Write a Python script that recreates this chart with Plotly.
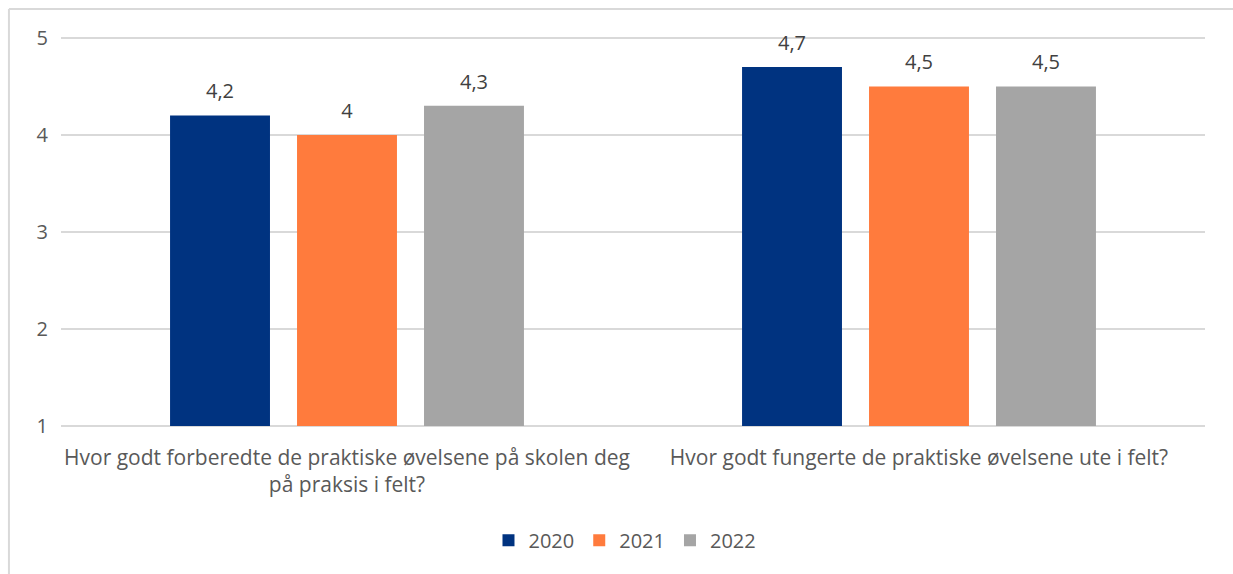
import plotly.graph_objects as go

categories = [
    "Hvor godt forberedte de praktiske øvelsene på skolen deg<br>på praksis i felt?",
    "Hvor godt fungerte de praktiske øvelsene ute i felt?",
]
years = ["2020", "2021", "2022"]
values = {
    "2020": [4.2, 4.7],
    "2021": [4.0, 4.5],
    "2022": [4.3, 4.5],
}
colors = {"2020": "#003380", "2021": "#FF7B3D", "2022": "#A5A5A5"}
y_ticks = [1, 2, 3, 4, 5]
y_min = 1  # axis starts at 1, bars grow from there


def fmt(v):
    return ("%g" % v).replace(".", ",")


fig = go.Figure()
for year in years:
    fig.add_trace(go.Bar(
        x=categories,
        y=[v - y_min for v in values[year]],
        base=y_min,
        name=year,
        offsetgroup=year,
        marker=dict(color=colors[year], line=dict(width=0)),
    ))
# value labels, lifted a bit above the bars via an invisible marker
for year in years:
    fig.add_trace(go.Scatter(
        x=categories,
        y=values[year],
        offsetgroup=year,
        mode="markers+text",
        marker=dict(size=18, opacity=0),
        text=[fmt(v) for v in values[year]],
        textposition="top center",
        textfont=dict(size=20, color="#404040"),
        showlegend=False,
        hoverinfo="skip",
        cliponaxis=False,
    ))

fig.update_layout(
    width=1233,
    height=574,
    margin=dict(l=61, r=28, t=36, b=146),
    paper_bgcolor="white",
    plot_bgcolor="white",
    font=dict(family="Open Sans, Liberation Sans, sans-serif", size=20, color="#595959"),
    barmode="group",
    scattermode="group",
    bargap=0.334,
    bargroupgap=0.213,
    showlegend=True,
    legend=dict(
        orientation="h",
        x=0.493, xanchor="center",
        yref="container",
        y=0.059, yanchor="middle",
        font=dict(size=20, color="#595959"),
        itemwidth=30,
    ),
    xaxis=dict(
        showgrid=False,
        showline=False,
        ticks="",
        ticklabelstandoff=15,
        tickfont=dict(size=21, color="#595959"),
    ),
    yaxis=dict(
        range=[0.98, 5.02],
        tickvals=y_ticks,
        showgrid=True,
        gridcolor="#D9D9D9",
        gridwidth=1.5,
        zeroline=False,
        showline=False,
        ticks="",
        ticklabelstandoff=12,
        tickfont=dict(size=20, color="#595959"),
    ),
    shapes=[
        dict(type="line", xref="paper", yref="paper",
             x0=-0.0455, x1=1.05, y0=1.069, y1=1.069,
             line=dict(color="#D9D9D9", width=2)),
        dict(type="line", xref="paper", yref="paper",
             x0=-0.0455, x1=-0.0455, y0=1.069, y1=-0.4,
             line=dict(color="#D9D9D9", width=2)),
    ],
)

fig.write_html("out.html", config={"displayModeBar": False},
               post_script="document.body.style.margin='0';")
